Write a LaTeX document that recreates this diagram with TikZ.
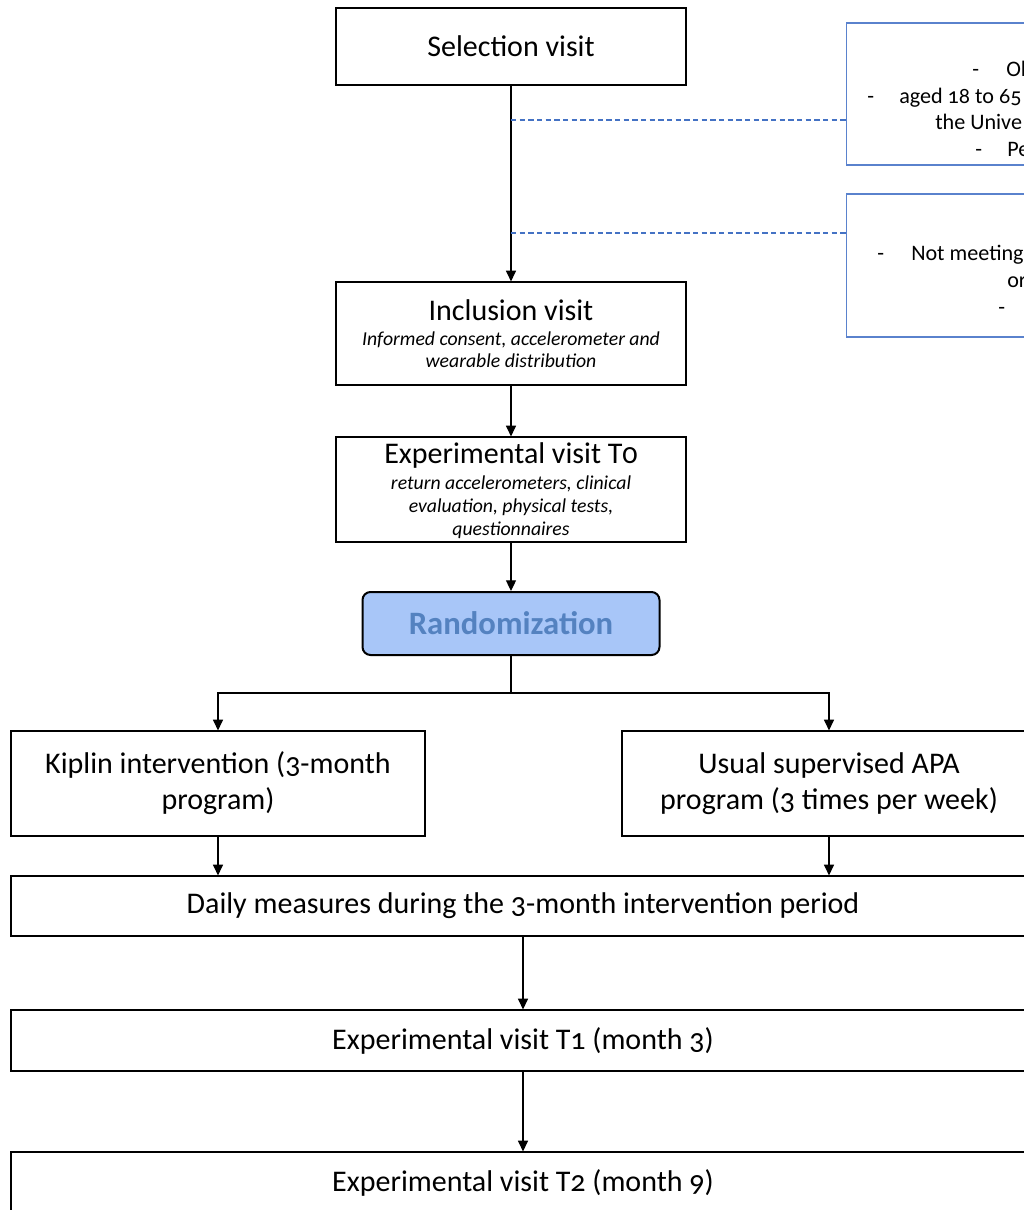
\documentclass[tikz,border=0pt]{standalone}
\usepackage{fontspec}
\setmainfont{Carlito}[Numbers=OldStyle]
\usetikzlibrary{arrows.meta}
\definecolor{dashblue}{RGB}{68,114,196}
\definecolor{sideblue}{RGB}{90,130,205}
\definecolor{randfill}{RGB}{168,198,248}
\definecolor{randtext}{RGB}{84,130,192}
\newcommand{\pxu}{*0.75pt}
\begin{document}
\begin{tikzpicture}[x=0.75pt,y=-0.75pt,
  box/.style={draw=black, line width=0.9pt, inner sep=0pt, align=center,
    font=\fontsize{22.5}{27}\selectfont},
  ttl/.style={inner sep=0pt, font=\fontsize{22.5}{27}\selectfont},
  sub/.style={inner sep=0pt, align=center, font=\fontsize{14.8}{16.5}\selectfont\itshape},
  side/.style={draw=sideblue, line width=0.8pt, inner sep=0pt},
  sidetxt/.style={inner sep=0pt, anchor=base west, font=\fontsize{16.6}{20}\selectfont},
  arr/.style={line width=0.9pt, -{Triangle[width=7.5pt,length=8pt]}},
  plain/.style={line width=0.9pt},
  dashline/.style={draw=dashblue, line width=1pt, dash pattern=on 4pt off 2.5pt}]
\useasboundingbox (0,0) rectangle (1024,1210);
\clip (0,0) rectangle (1024,1210);
\fill[white] (0,0) rectangle (1024,1210);

% main column
\node[box, minimum width=350\pxu, minimum height=77\pxu] (sel) at (511,46.5) {Selection visit};

\node[box, minimum width=350\pxu, minimum height=103\pxu] (inc) at (511,333.5) {};
\node[ttl] (inct) at (511,310) {Inclusion visit};
\node[sub] (incs) at (511,350) {Informed consent, accelerometer and\\wearable distribution};

\node[box, minimum width=350\pxu, minimum height=105\pxu] (t0) at (511,489.5) {};
\node[ttl] (t0t) at (511,455) {Experimental visit T0};
\node[sub, font=\fontsize{14.8}{17.25}\selectfont\itshape] (t0s) at (511,507) {return accelerometers, clinical\\evaluation, physical tests,\\questionnaires};

\node[draw=black, line width=1.5pt, rounded corners=6pt, fill=randfill,
  minimum width=297\pxu, minimum height=63\pxu, inner sep=0pt,
  font=\fontsize{24.5}{28}\selectfont\bfseries, text=randtext] (rand) at (511,623.5) {Randomization};

\node[box, minimum width=414\pxu, minimum height=105\pxu] (kip) at (218,783.5) {Kiplin intervention (3-month\\program)};
\node[box, minimum width=414\pxu, minimum height=105\pxu] (usu) at (829,783.5) {Usual supervised APA\\program (3 times per week)};

\node[box, minimum width=1024\pxu, minimum height=60\pxu] (daily) at (523,906) {Daily measures during the 3-month intervention period};
\node[box, minimum width=1024\pxu, minimum height=61\pxu] (t1) at (523,1040.5) {Experimental visit T1 (month 3)};
\node[box, minimum width=1024\pxu, minimum height=61\pxu] (t2) at (523,1182.5) {Experimental visit T2 (month 9)};

% side boxes (cut by the picture edge, as in the reference)
\node[side, anchor=west, minimum width=400\pxu, minimum height=142\pxu] (ex1) at (846,94) {};
\node[side, anchor=west, minimum width=400\pxu, minimum height=143\pxu] (ex2) at (846,265.5) {};

\node[sidetxt] (a1) at (972,76) {-};
\node[sidetxt] (a2) at (1006,76) {Ol};
\node[sidetxt] (a3) at (867,103) {-};
\node[sidetxt] (a4) at (899,103) {aged 18 to 65};
\node[sidetxt] (a5) at (935,129) {the Unive};
\node[sidetxt] (a6) at (975,156) {-};
\node[sidetxt] (a7) at (1007,156) {Pe};

\node[sidetxt] (b1) at (877,260) {-};
\node[sidetxt] (b2) at (911,260) {Not meeting};
\node[sidetxt] (b3) at (1007,287) {or};
\node[sidetxt] (b4) at (998,314) {-};

% connectors
\coordinate (d1) at (511,120);
\coordinate (d2) at (511,233);
\draw[arr] (sel.south) -- (inc.north);
\draw[dashline] (d1) -- (d1 -| ex1.west);
\draw[dashline] (d2) -- (d2 -| ex2.west);
\draw[arr] (inc.south) -- (t0.north);
\draw[arr] (t0.south) -- (rand.north);
\coordinate (split) at (511,693);
\draw[plain] (rand.south) -- (split);
\draw[arr] (split) -| (kip.north);
\draw[arr] (split) -| (usu.north);
\draw[arr] (kip.south) -- (kip.south |- daily.north);
\draw[arr] (usu.south) -- (usu.south |- daily.north);
\draw[arr] (daily.south) -- (t1.north);
\draw[arr] (t1.south) -- (t2.north);
\end{tikzpicture}
\end{document}
